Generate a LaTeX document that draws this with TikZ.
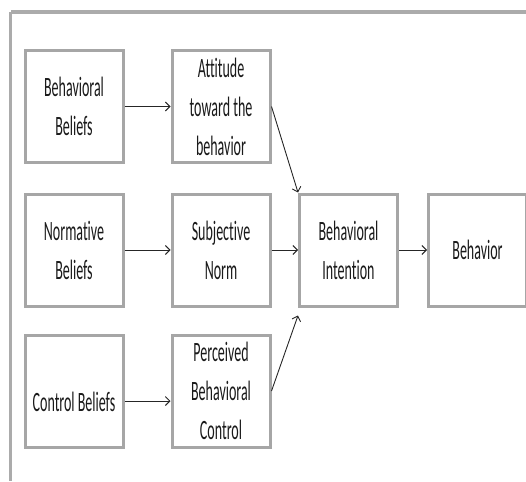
\documentclass[tikz,border=0pt]{standalone}
\usepackage{fontspec}
\setmainfont{Carlito}[FakeStretch=0.5, Ligatures=NoCommon]
\usetikzlibrary{arrows.meta}
\definecolor{boxgray}{HTML}{A6A6A6}
\definecolor{framegray}{HTML}{ABABAB}
\definecolor{txt}{HTML}{1A1A1A}
\tikzset{
  stagebox/.style={draw=boxgray, line width=3pt, fill=white, minimum width=98pt,
    minimum height=112pt, inner sep=0pt, align=center, text=txt,
    font=\fontsize{28pt}{39pt}\selectfont},
  link/.style={draw=black!85, line width=0.9pt, -{Straight Barb[length=4.5pt,width=9pt]}},
}
\begin{document}
\begin{tikzpicture}[x=1pt,y=-1pt]
\useasboundingbox (0,0) rectangle (526,481);
\coordinate (ftl) at (10.7,12);
\coordinate (ftr) at (530,12);
\coordinate (fbl) at (10.7,481);
\draw[framegray, line width=4pt] (ftr) -- (ftl);
\draw[framegray, line width=3pt] (10.7,12) -- (fbl);

\node[stagebox] (bb)  at (74,106.5)  {Behavioral\\Beliefs};
\node[stagebox] (att) at (221,106.5) {Attitude\\toward the\\behavior};
\node[stagebox] (nb)  at (74,250)    {Normative\\Beliefs};
\node[stagebox] (sn)  at (221,250)   {Subjective\\Norm};
\node[stagebox, text height=46pt, text depth=6pt] (cb) at (74,391) {Control Beliefs};
\node[stagebox] (pbc) at (221,391)   {Perceived\\Behavioral\\Control};
\node[stagebox] (bi)  at (348.5,250) {Behavioral\\Intention};
\node[stagebox] (beh) at (477.5,250) {Behavior};

\draw[link] (bb) -- (att);
\draw[link] (nb) -- (sn);
\draw[link] ([yshift=-10pt]cb.east) -- ([yshift=-10pt]pbc.west);
\draw[link] (att.east) -- (bi.north west);
\draw[link] (sn) -- (bi);
\draw[link] (pbc.east) -- ([yshift=-8pt]bi.south west);
\draw[link] (bi) -- (beh);
\end{tikzpicture}
\end{document}
